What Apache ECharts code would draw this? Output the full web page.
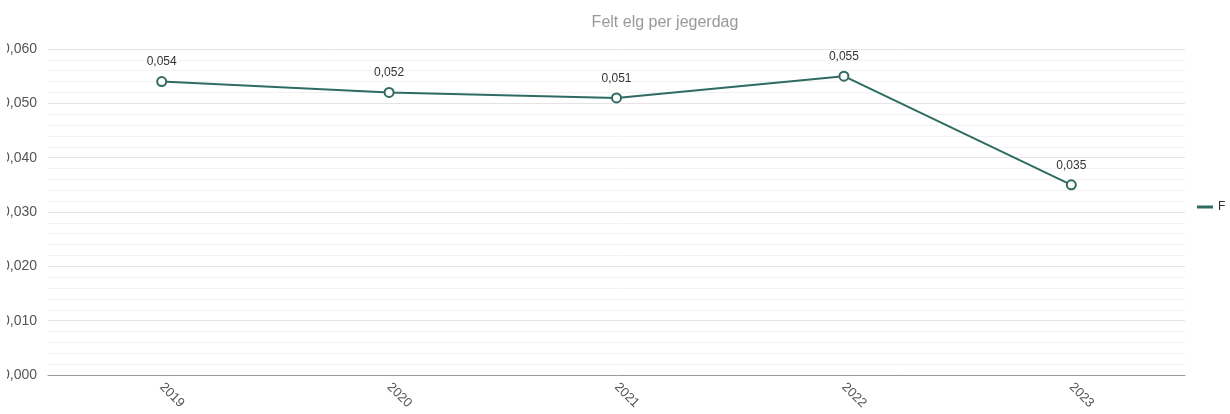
<!DOCTYPE html>
<html lang="no">
<head>
    <meta charset="UTF-8">
    <title>Felt elg per jegerdag</title>
    <script type="text/javascript" src="https://cdn.jsdelivr.net/npm/echarts@6/dist/echarts.min.js"></script>
    <style>
        html, body { margin: 0; padding: 0; overflow: hidden; background: #fff; }
        #wrap { position: absolute; left: 7px; top: 0; width: 1218px; height: 414px; overflow: hidden; }
        #chart { position: absolute; left: -17px; top: 0; width: 1350px; height: 414px; }
    </style>
</head>
<body>
<div id="wrap"><div id="chart"></div></div>
<script type="text/javascript">
    // data
    var years = ['2019', '2020', '2021', '2022', '2023'];
    var feltPerDag = [0.054, 0.052, 0.051, 0.055, 0.035];
    var seriesName = 'Felt elg per jegerdag';

    function komma(v) {
        return v.toFixed(3).replace('.', ',');
    }

    var myChart = echarts.init(document.getElementById('chart'));
    var option = {
        textStyle: { fontFamily: 'Liberation Sans, Arial, sans-serif' },
        title: {
            text: seriesName,
            left: 'center',
            top: 10,
            textStyle: { color: '#999', fontSize: 16, fontWeight: 'normal' }
        },
        legend: {
            orient: 'vertical',
            right: 7,
            top: 'middle',
            itemWidth: 16,
            itemHeight: 3,
            icon: 'rect',
            data: [seriesName],
            textStyle: { color: '#333', fontSize: 12 }
        },
        grid: { left: 58, right: 155, top: 49, bottom: 39 },
        xAxis: {
            type: 'category',
            data: years,
            boundaryGap: true,
            axisLine: { lineStyle: { color: '#999' } },
            axisTick: { lineStyle: { color: '#999' } },
            axisLabel: { rotate: -45, color: '#555', fontSize: 13, margin: 10 }
        },
        yAxis: {
            type: 'value',
            min: 0,
            max: 0.06,
            interval: 0.01,
            axisLine: { show: false },
            axisTick: { show: false },
            axisLabel: { color: '#555', fontSize: 14, margin: 11, formatter: komma },
            splitLine: { lineStyle: { color: '#e4e4e4' } },
            minorTick: { show: false, splitNumber: 5 },
            minorSplitLine: { show: true, lineStyle: { color: '#f2f2f2' } }
        },
        series: [{
            name: seriesName,
            type: 'line',
            data: feltPerDag,
            symbol: 'emptyCircle',
            symbolSize: 9,
            lineStyle: { color: '#2f6b62', width: 2 },
            itemStyle: { color: '#2f6b62', borderWidth: 2 },
            label: {
                show: true,
                position: 'top',
                distance: 8,
                color: '#333',
                fontSize: 12,
                formatter: function (p) { return komma(p.value); }
            }
        }]
    };
    myChart.setOption(option);
</script>
</body>
</html>
